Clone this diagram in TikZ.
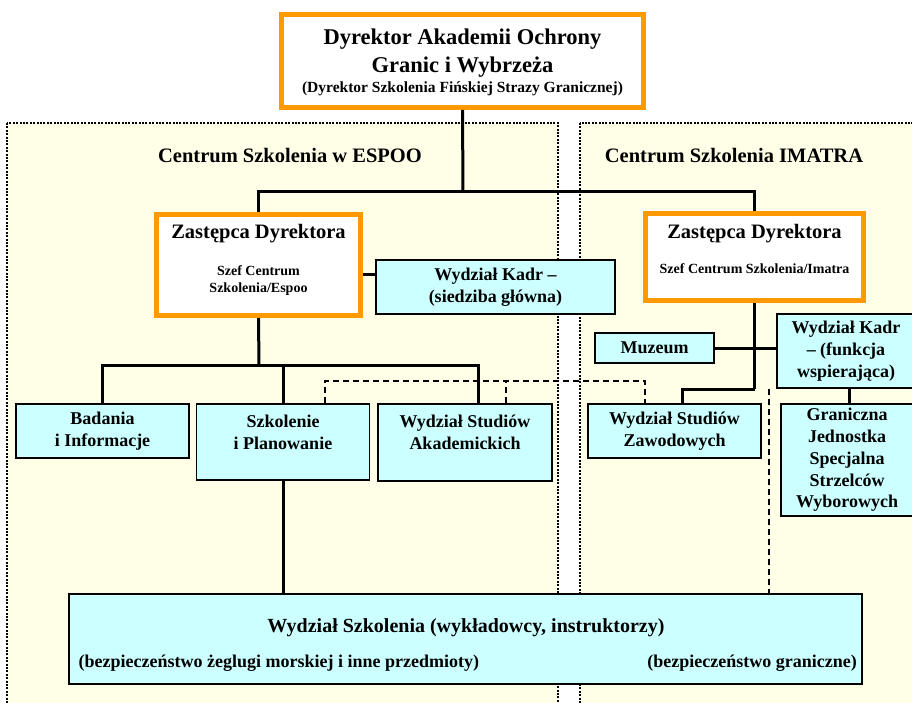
\documentclass[tikz,border=0pt]{standalone}
\usepackage{fontspec}
\setmainfont{Liberation Serif}[BoldFont={Liberation Serif Bold}]
\newfontfamily\hb{Liberation Serif Bold}
\definecolor{orangec}{RGB}{255,153,0}
\definecolor{cyanfill}{RGB}{204,255,255}
\definecolor{bgyellow}{RGB}{255,255,232}
\newcommand\ftitle{\hb\fontsize{22.5}{27}\selectfont}
\newcommand\fhead{\hb\fontsize{20.5}{24}\selectfont}
\newcommand\fbx{\hb\fontsize{18}{21.8}\selectfont}
\newcommand\fsmall{\hb\fontsize{14}{17}\selectfont}
\newcommand\fsub{\hb\fontsize{15.5}{18}\selectfont}
\begin{document}
\begin{tikzpicture}[x=1pt,y=-1pt,
  region/.style={fill=bgyellow,draw=black,line width=2.6pt,dash pattern=on 2pt off 1.4pt},
  obox/.style={draw=orangec,line width=5pt,fill=white,inner sep=0pt},
  cbox/.style={draw=black,line width=1.8pt,fill=cyanfill,inner sep=0pt,align=center,font=\fbx},
  txt/.style={inner sep=0pt,align=center},
  conn/.style={draw=black,line width=3pt},
  dashc/.style={draw=black,line width=1.3pt,dash pattern=on 6pt off 4pt}]
\useasboundingbox (0,0) rectangle (912,703);
\fill[white] (0,0) rectangle (912,703);
\draw[region] (7,123) rectangle (558,720);
\draw[region] (580,123) rectangle (930,720);

% top director
\node[obox,minimum width=362pt,minimum height=93pt] (dir) at (462.5,61) {};
\node[txt,anchor=base,font=\ftitle] (dir1) at (462.5,45) {Dyrektor Akademii Ochrony};
\node[txt,anchor=base,font=\ftitle] (dir2) at (462.5,73) {Granic i Wybrzeża};
\node[txt,anchor=base,font=\fsub] (dir3) at (462.5,93) {(Dyrektor Szkolenia Fińskiej Strazy Granicznej)};

% region titles
\node[txt,anchor=base,font=\fhead] (cesp) at (290,163) {Centrum Szkolenia w ESPOO};
\node[txt,anchor=base,font=\fhead] (cima) at (734,163) {Centrum Szkolenia IMATRA};

% deputies
\node[obox,minimum width=204pt,minimum height=101pt] (zl) at (258.5,265) {};
\node[txt,anchor=base,font=\fhead] (zl1) at (258.5,239) {Zastępca Dyrektora};
\node[txt,anchor=base,font=\fsmall] (zl2) at (258.5,275) {Szef Centrum};
\node[txt,anchor=base,font=\fsmall] (zl3) at (258.5,292) {Szkolenia/Espoo};

\node[obox,minimum width=218pt,minimum height=87pt] (zr) at (754.5,257) {};
\node[txt,anchor=base,font=\fhead] (zr1) at (754.5,239) {Zastępca Dyrektora};
\node[txt,anchor=base,font=\fsmall] (zr2) at (754.5,273) {Szef Centrum Szkolenia/Imatra};

% cyan boxes
\node[cbox,minimum width=239pt,minimum height=54pt] (kl) at (495.5,287) {Wydział Kadr –\\(siedziba główna)};
\node[cbox,minimum width=119pt,minimum height=30pt] (muz) at (654.5,348) {Muzeum};
\node[cbox,minimum width=138pt,minimum height=74pt] (kf) at (846,351) {Wydział Kadr\\– (funkcja\\wspierająca)};
\node[cbox,minimum width=132pt,minimum height=112pt] (gr) at (847,460) {Graniczna\\Jednostka\\Specjalna\\Strzelców\\Wyborowych};

\node[cbox,minimum width=173pt,minimum height=54pt] (bad) at (102.5,431) {Badania\\i Informacje};
\node[cbox,minimum width=173pt,minimum height=76pt] (szk) at (283,442) {};
\node[txt,font=\fbx] (szkt) at (283,432) {Szkolenie\\i Planowanie};
\node[cbox,minimum width=174pt,minimum height=77pt] (aka) at (465,442.5) {};
\node[txt,font=\fbx] (akat) at (465,432) {Wydział Studiów\\Akademickich};
\node[cbox,minimum width=173pt,minimum height=54pt] (zaw) at (674.5,431) {Wydział Studiów\\Zawodowych};

\node[cbox,minimum width=793pt,minimum height=90pt] (bot) at (465.5,639) {};
\node[txt,anchor=base,font=\hb\fontsize{20}{24}\selectfont] (bot1) at (466,632) {Wydział Szkolenia (wykładowcy, instruktorzy)};
\node[txt,anchor=base west,font=\fbx] (bot2) at (78.5,667) {(bezpieczeństwo żeglugi morskiej i inne przedmioty)};
\node[txt,anchor=base east,font=\fbx] (bot3) at (857,667) {(bezpieczeństwo graniczne)};

% junction coordinates
\coordinate (jt) at (463,192);
\coordinate (jl) at (259,365);
\coordinate (jr) at (754.5,389);
\coordinate (akaT) at (478,403);
\coordinate (zawT) at (682,403);
\coordinate (szkD) at (325,403);
\coordinate (akaD) at (506,403);
\coordinate (zawD) at (645,403);
\coordinate (dA) at (769,389);

% solid connectors
\draw[conn] (dir.south) -- (jt);
\draw[conn] (zl.north) -- ++(0,-20) -| (zr.north);
\draw[conn] (zl.east |- 0,274) -- (kl.west |- 0,274);
\draw[conn] (zl.south) -- (jl);
\draw[conn] (bad.north) |- (jl) -| (akaT);
\draw[conn] (szk.north) -- (szk.north |- jl);
\draw[conn] (zr.south) -- (jr);
\draw[conn] (muz.east) -- (kf.west |- muz.east);
\draw[conn] (zawT) |- (jr);
\draw[conn] (gr.north -| 849,0) -- (kf.south -| 849,0);
\draw[conn] (szk.south) -- (szk.south |- bot.north);

% dashed connectors
\draw[dashc] (szkD) -- ++(0,-22) -| (zawD);
\draw[dashc] (akaD) -- ++(0,-22);
\draw[dashc] (dA) -- (dA |- bot.north);
\end{tikzpicture}
\end{document}
